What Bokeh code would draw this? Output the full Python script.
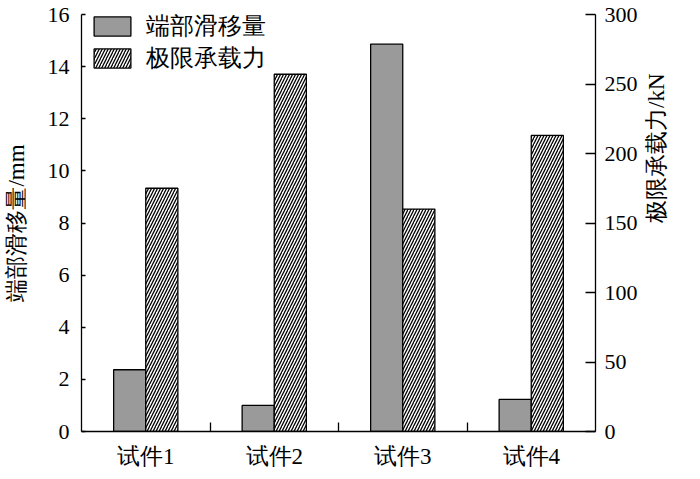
import math
from bokeh.plotting import figure
from bokeh.models import (Range1d, LinearAxis, FixedTicker, Legend, LegendItem,
                          ColumnDataSource, Label)
from bokeh.embed import file_html
from bokeh.resources import INLINE

# ---- data ----
specimens = ["试件1", "试件2", "试件3", "试件4"]
slip_mm = [2.37, 1.0, 14.86, 1.23]          # 端部滑移量 (left axis, mm)
ultimate_kN = [175, 257, 160, 213]          # 极限承载力 (right axis, kN)
left_ticks = [0, 2, 4, 6, 8, 10, 12, 14, 16]
right_ticks = [0, 50, 100, 150, 200, 250, 300]

SERIF = "Liberation Serif"
GRAY = "#9a9a9a"

idx = list(range(len(specimens)))
centers = [i + 0.5 for i in idx]
bar_w = 0.25
src = ColumnDataSource(dict(
    xs=[c - bar_w / 2 for c in centers],
    xh=[c + bar_w / 2 for c in centers],
    slip=slip_mm,
    load=ultimate_kN,
))

p = figure(width=684, height=471, output_backend="svg", toolbar_location=None,
           x_range=Range1d(0, len(specimens)), y_range=Range1d(0, 16),
           x_axis_type=None, y_axis_type=None,
           min_border_left=79, min_border_right=76, min_border_top=14,
           min_border_bottom=40)
p.extra_y_ranges = {"r": Range1d(0, 300)}
p.outline_line_color = None
p.xgrid.visible = False
p.ygrid.visible = False
p.background_fill_color = "white"
p.border_fill_color = "white"

# bars
r1 = p.vbar(x="xs", top="slip", width=bar_w, source=src, fill_color=GRAY,
            line_color="black", line_width=1.3)
r2 = p.vbar(x="xh", top="load", width=bar_w, source=src, y_range_name="r",
            fill_color="white", line_color="black", line_width=1.3,
            hatch_pattern="/", hatch_color="black", hatch_scale=6,
            hatch_weight=1.3)

# bottom axis: labels at centers, ticks at boundaries (minor)
xa = LinearAxis(ticker=FixedTicker(ticks=centers,
                                   minor_ticks=[i for i in range(1, len(specimens))]))
xa.major_label_overrides = {c: s for c, s in zip(centers, specimens)}
xa.major_tick_in = 0
xa.major_tick_out = 0
xa.minor_tick_in = 9
xa.minor_tick_out = 0
xa.minor_tick_line_color = "black"
xa.minor_tick_line_width = 1.3
xa.axis_line_color = "black"
xa.axis_line_width = 1.3
xa.major_label_standoff = 12
xa.major_label_text_font = SERIF
xa.major_label_text_font_size = "23px"
xa.major_label_text_color = "black"
p.add_layout(xa, "below")

# left axis
ya = LinearAxis(ticker=FixedTicker(ticks=left_ticks, minor_ticks=[]))
ya.axis_label = "端部滑移量/mm"
ya.axis_label_text_font = SERIF
ya.axis_label_text_font_size = "23px"
ya.axis_label_text_font_style = "normal"
ya.axis_label_text_color = "black"
ya.axis_label_standoff = 16
ya.major_tick_in = 4
ya.major_tick_out = 0
ya.major_tick_line_width = 1.3
ya.axis_line_width = 1.3
ya.major_label_standoff = 12
ya.major_label_text_font = SERIF
ya.major_label_text_font_size = "22px"
ya.major_label_text_color = "black"
p.add_layout(ya, "left")

# right axis
yr = LinearAxis(y_range_name="r", ticker=FixedTicker(ticks=right_ticks, minor_ticks=[]))
yr.major_tick_in = 10
yr.major_tick_out = 0
yr.major_tick_line_width = 1.3
yr.axis_line_width = 1.3
yr.major_label_standoff = 9
yr.major_label_text_font = SERIF
yr.major_label_text_font_size = "22px"
yr.major_label_text_color = "black"
yr.axis_label_text_font = SERIF
yr.axis_label_text_font_size = "23px"
yr.axis_label_text_font_style = "normal"
yr.axis_label_text_color = "black"
yr.axis_label_standoff = 16
RIGHT_TITLE = "极限承载力/kN"
if "axis_label_orientation" in yr.properties():
    yr.axis_label = RIGHT_TITLE
    yr.axis_label_orientation = math.pi / 2
else:
    p.add_layout(Label(x=4.47, y=137, y_range_name="r", text=RIGHT_TITLE,
                       angle=math.pi / 2, text_align="center",
                       text_baseline="middle", text_font=SERIF,
                       text_font_size="23px", text_color="black"))
p.add_layout(yr, "right")

legend = Legend(items=[LegendItem(label="端部滑移量", renderers=[r1]),
                       LegendItem(label="极限承载力", renderers=[r2])],
                location=(8, 357), margin=0, padding=2, spacing=0,
                glyph_width=46, glyph_height=24, label_standoff=11,
                label_height=24,
                label_text_font=SERIF, label_text_font_size="24px",
                label_text_color="black", border_line_color=None,
                background_fill_alpha=0)
legend.label_text_baseline = "middle"
p.add_layout(legend)

open("out.html", "w").write(file_html(p, INLINE))
